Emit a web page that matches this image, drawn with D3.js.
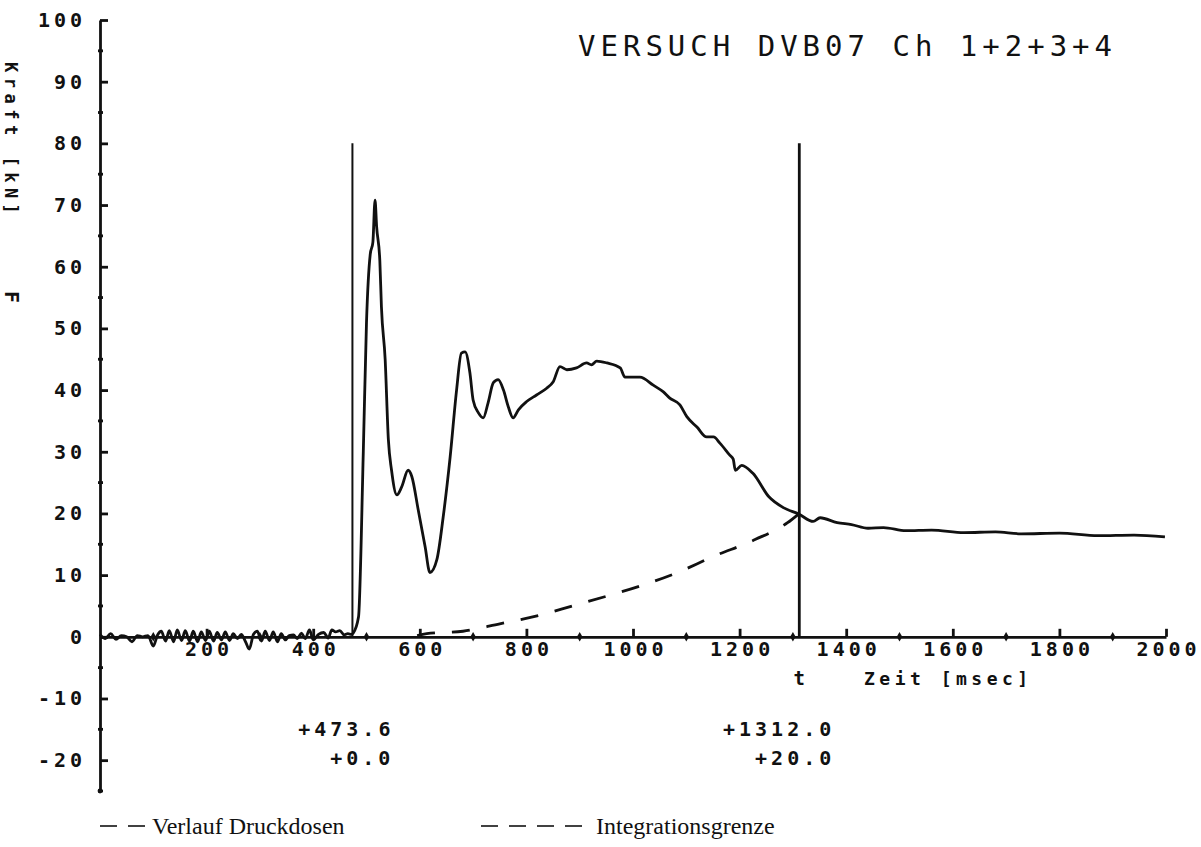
<!DOCTYPE html>
<html>
<head>
<meta charset="utf-8">
<script src="https://cdn.jsdelivr.net/npm/d3@7"></script>
<style>
  body { margin: 0; background: #fff; }
  svg { display: block; background: #fff; }
  .plot { font-family: "DejaVu Sans Mono", monospace; font-weight: bold; fill: #111; }
</style>
</head>
<body>
<div id="chart"></div>
<script>
"use strict";

// axis ticks
const xTicks = [200, 400, 600, 800, 1000, 1200, 1400, 1600, 1800, 2000];
const xMinor = [100, 300, 500, 700, 900, 1100, 1300, 1500, 1700, 1900];
const yTicks = [-20, -10, 0, 10, 20, 30, 40, 50, 60, 70, 80, 90, 100];
const yMinor = [-25, -15, -5, 5, 15, 25, 35, 45, 55, 65, 75, 85, 95];

// measured force, Ch 1+2+3+4 (time in msec, force in kN)
const forceTimes = [
    0, 10, 20, 30, 40, 50, 60, 70, 80, 90,
    100, 108, 115, 123, 130, 138, 145, 153, 160, 168,
    175, 183, 190, 198, 205, 213, 220, 228, 235, 243,
    250, 258, 265, 273, 280, 288, 295, 303, 310, 318,
    325, 333, 340, 348, 355, 363, 370, 378, 385, 393,
    400, 410, 420, 428, 435, 442, 450, 458, 465, 472,
    475, 485, 494, 500, 507, 512, 516, 519, 525, 528,
    535, 541, 547, 557, 566, 578, 585, 597, 610, 619,
    632, 644, 657, 669, 678, 685, 694, 700, 710, 719,
    728, 738, 747, 757, 766, 775, 785, 800, 819, 838,
    850, 863, 876, 894, 913, 922, 932, 951, 976, 985,
    1013, 1038, 1057, 1069, 1088, 1101, 1120, 1138, 1151, 1163,
    1182, 1188, 1192, 1204, 1225, 1255, 1283, 1311, 1338, 1351,
    1383, 1410, 1441, 1470, 1512, 1560, 1621, 1680, 1728, 1800,
    1872, 1940, 1998
];
const forceValues = [
    0.4, -0.3, 0.5, -0.4, 0.2, 0.0, -0.8, 0.2, 0.0, 0.2,
    -1.5, 0.3, 0.9, -0.7, 1.0, -0.8, 1.1, -0.6, 1.0, -0.7,
    0.9, -0.8, 0.8, -0.6, 0.9, -0.7, 0.7, -0.5, 0.8, -0.6,
    0.5, -0.3, 0.4, -0.8, -2.0, 0.4, 0.9, -0.7, 0.9, -0.6,
    0.8, -0.8, 0.5, -0.5, 0.2, 0.3, -0.3, 0.6, -0.3, 1.1,
    -0.5, 0.4, 0.7, -0.2, 1.1, 0.8, 1.0, 0.3, 0.5, 0.4,
    0.6, 3.2, 30, 51, 62, 64, 70.8, 66.5, 61, 53.5,
    45, 32, 27, 23, 24.3, 27, 26, 20.6, 14.6, 10.4,
    12.5, 19.5, 29.2, 40, 46, 46.2, 42.8, 38.4, 36.3, 35.5,
    37.9, 41.2, 41.7, 40, 37.3, 35.5, 36.8, 38.1, 39.2, 40.3,
    41.3, 43.8, 43.3, 43.6, 44.4, 44.1, 44.7, 44.4, 43.6, 42.1,
    42.1, 40.8, 39.7, 38.7, 37.6, 35.7, 34, 32.4, 32.4, 31.4,
    29.4, 28.8, 27.0, 27.8, 26.5, 22.7, 20.9, 19.9, 18.7, 19.3,
    18.5, 18.2, 17.6, 17.7, 17.2, 17.3, 16.9, 17.0, 16.7, 16.8,
    16.4, 16.5, 16.2
];

// dashed curve (Integrationsgrenze)
const limitTimes = [595, 613, 681, 750, 820, 886, 951, 1019, 1083, 1150, 1230, 1290, 1312];
const limitValues = [0.2, 0.5, 0.9, 2.1, 3.4, 5.0, 6.6, 8.4, 10.4, 13.0, 15.8, 18.5, 20.0];

// cursor lines with their read-outs
const cursorTimes = [473.6, 1312.0];
const cursorValues = [0.0, 20.0];
const cursorTop = 80;

const title = "VERSUCH DVB07 Ch 1+2+3+4";

let width = 1201,
    height = 847;

let svg = d3.select("#chart")
    .append("svg")
    .attr("width", width)
    .attr("height", height);

let x = d3.scaleLinear().domain([0, 2000]).range([100, 1166]);
let y = d3.scaleLinear().domain([-25, 100]).range([791, 20]);

const pen = "#111";
const penWidth = 2.8;

// Y axis, ticks point into the plot
let yAxis = svg.append("g")
    .attr("transform", "translate(" + x(0) + ",0)")
    .call(d3.axisLeft(y)
        .tickValues(yTicks)
        .tickSizeInner(-8)
        .tickSizeOuter(0)
        .tickPadding(14)
        .tickFormat(d => String(d)));

yAxis.selectAll("path, line").attr("stroke", pen).attr("stroke-width", penWidth);
yAxis.selectAll("text")
    .attr("fill", pen)
    .style("font-size", "20px")
    .style("letter-spacing", "4px")
    .style("font-family", "'DejaVu Sans Mono', monospace")
    .style("font-weight", "bold");

svg.append("g")
    .selectAll("line")
    .data(yMinor)
    .enter().append("line")
    .attr("x1", x(0) - 2)
    .attr("x2", x(0) + 3)
    .attr("y1", d => y(d))
    .attr("y2", d => y(d))
    .attr("stroke", pen)
    .attr("stroke-width", penWidth);

svg.append("circle")
    .attr("cx", x(0))
    .attr("cy", y(-25))
    .attr("r", 2.4)
    .attr("fill", pen);

// X axis on the zero line
let xAxis = svg.append("g")
    .attr("transform", "translate(0," + y(0) + ")")
    .call(d3.axisBottom(x)
        .tickValues(xTicks)
        .tickSizeInner(-8)
        .tickSizeOuter(0)
        .tickPadding(5)
        .tickFormat(d => String(d)));

xAxis.selectAll("path, line").attr("stroke", pen).attr("stroke-width", penWidth);
xAxis.selectAll("text")
    .attr("fill", pen)
    .attr("dx", "2px")
    .style("font-size", "20px")
    .style("letter-spacing", "4px")
    .style("font-family", "'DejaVu Sans Mono', monospace")
    .style("font-weight", "bold");

svg.append("g")
    .selectAll("path")
    .data(xMinor)
    .enter().append("path")
    .attr("d", d3.symbol(d3.symbolDiamond, 26))
    .attr("transform", d => "translate(" + x(d) + "," + y(0) + ")")
    .attr("fill", pen);

// force curve
let points = forceTimes.map((t, i) => [t, forceValues[i]]);
let line = d3.line()
    .x(d => x(d[0]))
    .y(d => y(d[1]))
    .curve(d3.curveMonotoneX);

svg.append("path")
    .datum(points)
    .attr("d", line)
    .attr("fill", "none")
    .attr("stroke", pen)
    .attr("stroke-width", penWidth)
    .attr("stroke-linejoin", "round");

// integration limit, dashed
let limitPoints = limitTimes.map((t, i) => [t, limitValues[i]]);
svg.append("path")
    .datum(limitPoints)
    .attr("d", d3.line().x(d => x(d[0])).y(d => y(d[1])).curve(d3.curveMonotoneX))
    .attr("fill", "none")
    .attr("stroke", pen)
    .attr("stroke-width", penWidth)
    .attr("stroke-dasharray", "18 17");

// cursors
svg.append("g")
    .selectAll("line")
    .data(cursorTimes)
    .enter().append("line")
    .attr("x1", d => x(d))
    .attr("x2", d => x(d))
    .attr("y1", y(0))
    .attr("y2", y(cursorTop))
    .attr("stroke", pen)
    .attr("stroke-width", (d, i) => i === 0 ? 2 : 2.8);

let readout = svg.append("g").attr("class", "plot")
    .style("font-size", "20px")
    .style("letter-spacing", "4px");

cursorTimes.forEach((t, i) => {
    let right = x(t) + (i === 0 ? 42 : 36);
    readout.append("text")
        .attr("x", right)
        .attr("y", 736)
        .attr("text-anchor", "end")
        .text("+" + t.toFixed(1));
    readout.append("text")
        .attr("x", right)
        .attr("y", 765)
        .attr("text-anchor", "end")
        .text("+" + cursorValues[i].toFixed(1));
});

// axis titles
svg.append("text")
    .attr("class", "plot")
    .attr("x", x(1312))
    .attr("y", 685)
    .attr("text-anchor", "middle")
    .style("font-size", "19px")
    .text("t");

svg.append("text")
    .attr("class", "plot")
    .attr("x", 864)
    .attr("y", 685)
    .style("font-size", "18px")
    .style("letter-spacing", "4.5px")
    .text("Zeit [msec]");

svg.append("text")
    .attr("class", "plot")
    .attr("transform", "translate(5,62) rotate(90)")
    .style("font-size", "17px")
    .style("letter-spacing", "5.5px")
    .text("Kraft [kN]");

svg.append("text")
    .attr("class", "plot")
    .attr("transform", "translate(5,291) rotate(90)")
    .style("font-size", "20px")
    .text("F");

// title
svg.append("text")
    .attr("x", 578)
    .attr("y", 56)
    .attr("fill", pen)
    .style("font-family", "'DejaVu Sans Mono', monospace")
    .style("font-size", "29px")
    .style("letter-spacing", "5px")
    .text(title);

// caption legend
let legend = svg.append("g");
let addLegend = function (x0, dashes, label, textX) {
    for (let k = 0; k < dashes; k++) {
        legend.append("line")
            .attr("x1", x0 + k * 28)
            .attr("x2", x0 + k * 28 + 17)
            .attr("y1", 826)
            .attr("y2", 826)
            .attr("stroke", pen)
            .attr("stroke-width", 1.6);
    }
    legend.append("text")
        .attr("x", textX)
        .attr("y", 834)
        .attr("fill", pen)
        .style("font-family", "'Liberation Serif', serif")
        .style("font-size", "24px")
        .text(label);
};
addLegend(100, 2, "Verlauf Druckdosen", 152);
addLegend(481, 4, "Integrationsgrenze", 596);
</script>
</body>
</html>
